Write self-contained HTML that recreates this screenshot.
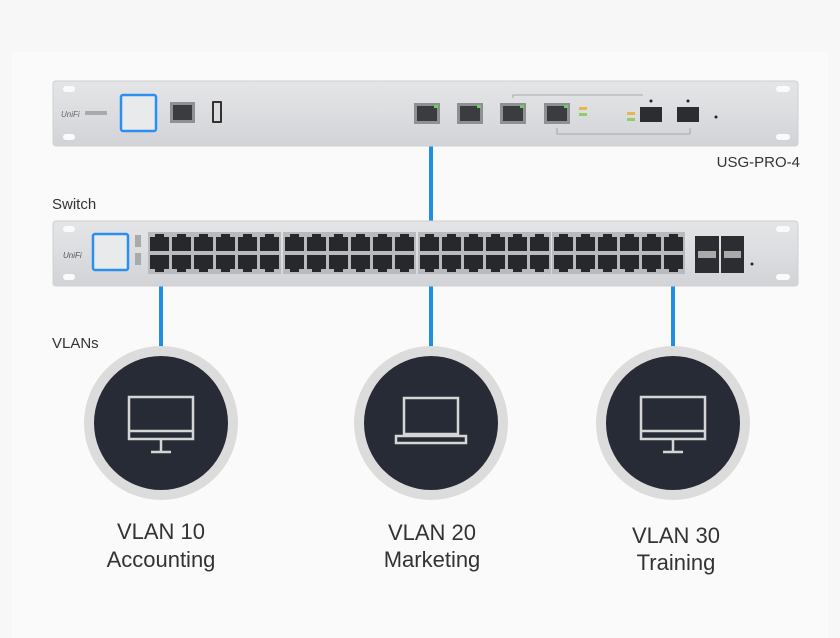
<!DOCTYPE html>
<html><head><meta charset="utf-8"><style>
html,body{margin:0;padding:0;background:#f7f7f7;}
body{width:840px;height:638px;overflow:hidden;}
svg{display:block}
text{font-family:"Liberation Sans",sans-serif;}
</style></head><body>
<svg width="840" height="638" viewBox="0 0 840 638" xmlns="http://www.w3.org/2000/svg">
<defs>
<linearGradient id="metal" x1="0" y1="0" x2="0" y2="1">
<stop offset="0" stop-color="#e4e5e7"/><stop offset="0.5" stop-color="#dcdde0"/><stop offset="1" stop-color="#d2d3d6"/>
</linearGradient>
<g id="port"><path d="M0,3 h5 v-3 h9 v3 h5 v14 h-19z" fill="#26282b"/></g>
<g id="portd"><path d="M0,0 h19 v14 h-5 v3 h-9 v-3 h-5z" fill="#26282b"/></g>
<g id="grp">
<rect x="-2" y="-2" width="133" height="42" fill="#b9babd"/>
<use href="#port" x="0"/><use href="#port" x="22"/><use href="#port" x="44"/><use href="#port" x="66"/><use href="#port" x="88"/><use href="#port" x="110"/>
<use href="#portd" x="0" y="21"/><use href="#portd" x="22" y="21"/><use href="#portd" x="44" y="21"/><use href="#portd" x="66" y="21"/><use href="#portd" x="88" y="21"/><use href="#portd" x="110" y="21"/>
</g>
<g id="uport"><rect x="0" y="0" width="26" height="21" fill="#8e9094"/><rect x="3" y="3" width="20" height="15" fill="#3a3c3f"/><rect x="20" y="2" width="4" height="3" fill="#6bd35a"/></g>
</defs>
<rect x="12" y="52" width="816" height="586" fill="#fafafa"/>

<!-- connectors -->
<g stroke="#1e8fe1" stroke-width="4">
<line x1="431" y1="146" x2="431" y2="222"/>
<line x1="431" y1="285" x2="431" y2="348"/>
<line x1="161" y1="285" x2="161" y2="348"/>
<line x1="673" y1="285" x2="673" y2="348"/>
</g>

<!-- USG -->
<rect x="53" y="81" width="745" height="65" rx="3" fill="url(#metal)" stroke="#cfd0d3"/>
<rect x="63" y="86" width="12" height="6" rx="3" fill="#fafafa"/><rect x="63" y="134" width="12" height="6" rx="3" fill="#fafafa"/>
<rect x="776" y="86" width="14" height="6" rx="3" fill="#fafafa"/><rect x="776" y="134" width="14" height="6" rx="3" fill="#fafafa"/>
<text x="61" y="117" font-size="8" font-style="italic" fill="#666">UniFi</text>
<rect x="85" y="111" width="22" height="4" fill="#aaa"/>
<rect x="121" y="95" width="35" height="36" rx="2" fill="#e9eaec" stroke="#2a8ff0" stroke-width="2.5"/>
<rect x="170" y="102" width="25" height="21" fill="#8e9094"/><rect x="173" y="105" width="19" height="15" fill="#3a3c3f"/>
<rect x="212" y="101" width="10" height="22" rx="1" fill="#333"/><rect x="214" y="103" width="6" height="18" fill="#ddd"/>
<use href="#uport" x="414" y="103"/><use href="#uport" x="457" y="103"/><use href="#uport" x="500" y="103"/><use href="#uport" x="544" y="103"/>
<path d="M513,98 V95 H643 M557,128 V134 H690 V128" fill="none" stroke="#999" stroke-width="0.8"/>
<rect x="579" y="107" width="8" height="3" fill="#e6b84a"/><rect x="579" y="113" width="8" height="3" fill="#8fcf6a"/>
<rect x="627" y="112" width="8" height="3" fill="#e6b84a"/><rect x="627" y="118" width="8" height="3" fill="#8fcf6a"/>
<rect x="640" y="107" width="22" height="15" fill="#2b2d30"/><rect x="677" y="107" width="22" height="15" fill="#2b2d30"/>
<circle cx="651" cy="101" r="1.5" fill="#222"/><circle cx="688" cy="101" r="1.5" fill="#222"/>
<circle cx="716" cy="117" r="1.5" fill="#222"/>
<text x="800" y="167" font-size="15" fill="#333" text-anchor="end">USG-PRO-4</text>

<!-- Switch -->
<text x="52" y="209" font-size="15" fill="#333">Switch</text>
<rect x="53" y="221" width="745" height="65" rx="3" fill="url(#metal)" stroke="#cfd0d3"/>
<rect x="63" y="226" width="12" height="6" rx="3" fill="#fafafa"/><rect x="63" y="274" width="12" height="6" rx="3" fill="#fafafa"/>
<rect x="776" y="226" width="14" height="6" rx="3" fill="#fafafa"/><rect x="776" y="274" width="14" height="6" rx="3" fill="#fafafa"/>
<text x="63" y="258" font-size="8" font-style="italic" fill="#555">UniFi</text>
<rect x="93" y="234" width="35" height="36" rx="2" fill="#e9eaec" stroke="#2a8ff0" stroke-width="2.5"/>
<rect x="135" y="235" width="6" height="12" fill="#aaa"/><rect x="135" y="253" width="6" height="12" fill="#aaa"/>
<use href="#grp" x="150" y="234"/><use href="#grp" x="285" y="234"/><use href="#grp" x="420" y="234"/><use href="#grp" x="554" y="234"/>
<rect x="695" y="236" width="24" height="37" fill="#2b2d30"/><rect x="721" y="236" width="23" height="37" fill="#2b2d30"/>
<rect x="698" y="251" width="18" height="7" fill="#aaa"/><rect x="724" y="251" width="17" height="7" fill="#aaa"/>
<circle cx="752" cy="264" r="1.5" fill="#222"/>

<!-- VLANs -->
<text x="52" y="348" font-size="15" fill="#333">VLANs</text>
<g>
<circle cx="161" cy="423" r="77" fill="#dcdcdc"/><circle cx="161" cy="423" r="67" fill="#272b35"/>
<rect x="129" y="397" width="64" height="42" fill="none" stroke="#d5d5d5" stroke-width="2.5"/>
<line x1="129" y1="431" x2="193" y2="431" stroke="#d5d5d5" stroke-width="2.5"/>
<line x1="161" y1="440" x2="161" y2="452" stroke="#d5d5d5" stroke-width="2.5"/>
<line x1="151" y1="452" x2="171" y2="452" stroke="#d5d5d5" stroke-width="2.5"/>
</g>
<g>
<circle cx="431" cy="423" r="77" fill="#dcdcdc"/><circle cx="431" cy="423" r="67" fill="#272b35"/>
<rect x="404" y="398" width="54" height="36" fill="none" stroke="#d5d5d5" stroke-width="2.5"/>
<rect x="396" y="436" width="70" height="7" fill="none" stroke="#d5d5d5" stroke-width="2.5"/>
</g>
<g>
<circle cx="673" cy="423" r="77" fill="#dcdcdc"/><circle cx="673" cy="423" r="67" fill="#272b35"/>
<rect x="641" y="397" width="64" height="42" fill="none" stroke="#d5d5d5" stroke-width="2.5"/>
<line x1="641" y1="431" x2="705" y2="431" stroke="#d5d5d5" stroke-width="2.5"/>
<line x1="673" y1="440" x2="673" y2="452" stroke="#d5d5d5" stroke-width="2.5"/>
<line x1="663" y1="452" x2="683" y2="452" stroke="#d5d5d5" stroke-width="2.5"/>
</g>
<g font-size="22" fill="#333" text-anchor="middle">
<text x="161" y="539">VLAN 10</text><text x="161" y="567">Accounting</text>
<text x="432" y="540">VLAN 20</text><text x="432" y="567">Marketing</text>
<text x="676" y="543">VLAN 30</text><text x="676" y="570">Training</text>
</g>
</svg>
</body></html>
